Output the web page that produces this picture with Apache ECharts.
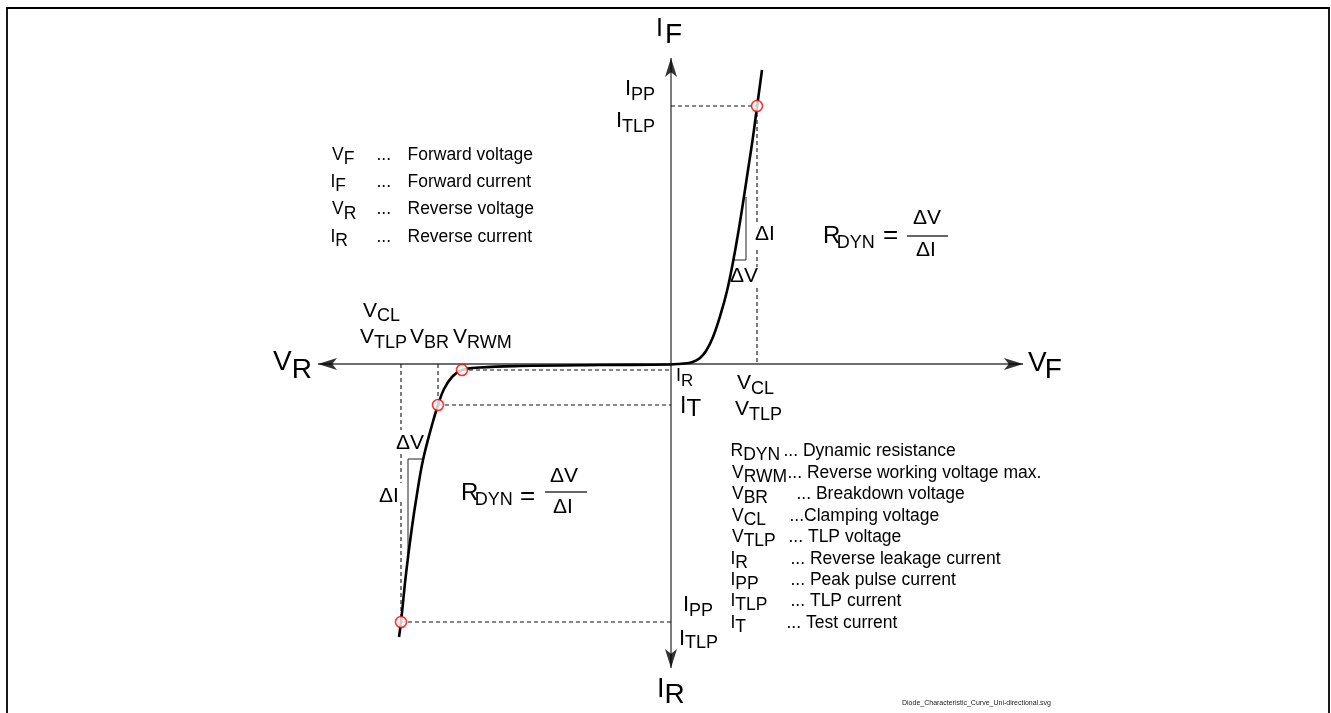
<!DOCTYPE html>
<html><head><meta charset="utf-8">
<script src="https://cdn.jsdelivr.net/npm/echarts@6/dist/echarts.min.js"></script>
<style>html,body{margin:0;padding:0;background:#fff;}#c{width:1331px;height:713px;}</style>
</head><body><div id="c"></div>
<script>
// ---------- data (arbitrary units: voltage V, current I) ----------
const reverseV = [-27.2, -27.0, -26.5, -25.9, -25.4, -24.8, -23.9, -23.3, -22.7, -21.9, -20.9, -19.1, -15.1, -7.1, 0];
const reverseI = [-27.3, -25.8, -21.0, -16.3, -13.0, -9.6, -6.1, -4.1, -2.5, -1.3, -0.6, -0.35, -0.2, -0.1, -0.05];
const forwardV = [1.0, 1.8, 2.4, 2.9, 3.5, 4.2, 5.0, 5.6, 6.2, 6.7, 7.2, 7.7, 8.2, 8.6, 9.1];
const forwardI = [0.03, 0.1, 0.3, 0.6, 1.3, 2.7, 5.1, 7.3, 10.2, 13.0, 16.1, 19.4, 22.7, 25.7, 29.4];
// key points: I_PP fwd, V_RWM/I_R, V_BR/I_T, V_TLP/I_PP rev
const pointV = [8.6, -20.9, -23.3, -27.0];
const pointI = [25.8, -0.6, -4.1, -25.8];
const axisV = [-35.3, 35.2];
const axisI = [-30.4, 30.6];
const slopeFwdV = [6.2, 7.5, 7.5], slopeFwdI = [10.4, 10.4, 16.7];
const slopeRevV = [-24.8, -26.3, -26.3], slopeRevI = [-9.5, -9.5, -19.5];
const fwdClampGaps = [[14.2, 11.4], [9.7, 7.6]];
const revClampGaps = [[-6.6, -9.0], [-11.9, -13.8]];
const legendTopSymbols = [['V','F'],['I','F'],['V','R'],['I','R']];
const legendTopTexts = ['Forward voltage','Forward current','Reverse voltage','Reverse current'];
const legendBottomSymbols = [['R','DYN'],['V','RWM'],['V','BR'],['V','CL'],['V','TLP'],['I','R'],['I','PP'],['I','TLP'],['I','T']];
const legendBottomTexts = ['... Dynamic resistance','... Reverse working voltage max.','... Breakdown voltage','...Clamping voltage','... TLP voltage','... Reverse leakage current','... Peak pulse current','... TLP current','... Test current'];
const legendBottomTextX = [785, 789, 798, 791, 790, 792, 792, 792, 788];
const fileName = 'Diode_Characteristic_Curve_Uni-directional.svg';

// ---------- helpers ----------
const FONT = '"Liberation Sans", Arial, Helvetica, sans-serif';
const mctx = document.createElement('canvas').getContext('2d');
function tw(t, s){ mctx.font = s + 'px ' + FONT; return mctx.measureText(t).width; }
function txt(x, y, t, s, extra){
  return {type:'text', x:x, y:y, z:100, silent:true,
    style:Object.assign({text:t, fontSize:s, fontFamily:FONT, fill:'#000', align:'left', verticalAlign:'middle'}, extra||{})};
}
function sym(x, y, main, ms, sub, ss, dy, dx){
  return [txt(x, y, main, ms), txt(x + tw(main, ms) + (dx||0), y + dy, sub, ss)];
}
function rsym(right, y, main, ms, sub, ss, dy){
  const w = tw(main, ms) + tw(sub, ss);
  return sym(right - w, y, main, ms, sub, ss, dy, 0);
}
function zip(a, b){ return a.map((v, i) => [v, b[i]]); }
function lineSeries(pts, style, z){
  return {type:'line', data:pts, symbol:'none', showSymbol:false, silent:true, animation:false,
    lineStyle:style, z:z||2};
}
function gappedV(v, from, to, gaps){
  const segs = []; let cur = from;
  gaps.forEach(g => { segs.push([[v, cur], [v, g[0]]]); cur = g[1]; });
  segs.push([[v, cur], [v, to]]);
  return segs;
}

// ---------- series ----------
const dash = {color:'#111', width:1.1, type:[4, 3]};
const series = [];
// axes
series.push(lineSeries([[axisV[0], 0], [axisV[1], 0]], {color:'#6e6e6e', width:1.8}, 1));
series.push(lineSeries([[0, axisI[0]], [0, axisI[1]]], {color:'#6e6e6e', width:1.8}, 1));
// dashed guides
const guides = [
  [[0, pointI[0]], [pointV[0], pointI[0]]],
  [[pointV[1], pointI[1]], [0, pointI[1]]],
  [[pointV[2], pointI[2]], [0, pointI[2]]],
  [[pointV[2], 0], [pointV[2], pointI[2]]],
  [[pointV[3], pointI[3]], [0, pointI[3]]]
].concat(gappedV(pointV[0], pointI[0], 0, fwdClampGaps))
 .concat(gappedV(pointV[3], 0, pointI[3], revClampGaps));
guides.forEach(g => series.push(lineSeries(g, dash, 2)));
// slope triangles
series.push(lineSeries(zip(slopeFwdV, slopeFwdI), {color:'#222', width:1}, 2));
series.push(lineSeries(zip(slopeRevV, slopeRevI), {color:'#222', width:1}, 2));
// characteristic curve
series.push({type:'line', data:zip(reverseV, reverseI).concat(zip(forwardV, forwardI)), smooth:0.4,
  symbol:'none', showSymbol:false, silent:true, animation:false, z:5,
  lineStyle:{color:'#000', width:2.6}});
// arrow heads
const arrowPath = 'path://M0,0 L6,18 L0,13.5 L-6,18 Z';
series.push({type:'scatter', silent:true, animation:false, z:6, symbol:arrowPath, symbolSize:[12, 19],
  itemStyle:{color:'#000'},
  data:[
    {value:[axisV[0] + 0.95, 0], symbolRotate:90},
    {value:[axisV[1] - 0.95, 0], symbolRotate:-90},
    {value:[0, axisI[1] - 0.95], symbolRotate:0},
    {value:[0, axisI[0] + 0.95], symbolRotate:180}
  ]});
// key point markers
series.push({type:'scatter', silent:true, animation:false, z:7, symbol:'circle', symbolSize:11,
  itemStyle:{color:'#fff', borderColor:'#f00', borderWidth:1.6},
  data:zip(pointV, pointI)});

// ---------- graphic (frame + text) ----------
let g = [];
g.push({type:'rect', z:0, silent:true, shape:{x:7, y:8, width:1322, height:730},
  style:{fill:'none', stroke:'#000', lineWidth:1.8}});
// axis names
g = g.concat(sym(656, 29, 'I', 25, 'F', 28, 6.5, 2));
g = g.concat(sym(1028, 363, 'V', 28, 'F', 28, 7, -2));
g = g.concat(sym(273, 362.5, 'V', 28, 'R', 28, 7.5, 0));
g = g.concat(sym(657, 689.5, 'I', 27, 'R', 28, 6, 0));
// forward labels
g = g.concat(rsym(655, 89, 'I', 22, 'PP', 18, 6));
g = g.concat(rsym(655, 121, 'I', 22, 'TLP', 18, 6));
g = g.concat(sym(737, 383.5, 'V', 21, 'CL', 18, 6));
g = g.concat(sym(735, 409.5, 'V', 21, 'TLP', 18, 5.5));
// reverse labels
g = g.concat(sym(683, 605, 'I', 22, 'PP', 18, 6.5));
g = g.concat(sym(679, 638.5, 'I', 22, 'TLP', 18, 5));
g = g.concat(sym(363, 311.5, 'V', 21, 'CL', 18, 5));
g = g.concat(sym(360, 337.5, 'V', 21, 'TLP', 18, 6));
g = g.concat(sym(410, 337.5, 'V', 21, 'BR', 18, 6));
g = g.concat(sym(453, 337.5, 'V', 21, 'RWM', 18, 6));
g = g.concat(sym(676, 376.5, 'I', 18, 'R', 17, 4.5));
g = g.concat(sym(680, 406.5, 'I', 23, 'T', 24, 2.5));
// deltas
g.push(txt(755, 234, '\u0394I', 21));
g.push(txt(730, 276.5, '\u0394V', 21));
g.push(txt(396, 443.5, '\u0394V', 21));
g.push(txt(379, 496.5, '\u0394I', 21));
// R_DYN formulas
function formula(x, y, eqX, eqY, fx1, fx2, fy, numX, numY, denX, denY){
  let r = sym(x, y, 'R', 24, 'DYN', 18, 6.5, -3.5);
  r.push(txt(eqX, eqY, '=', 26));
  r.push({type:'line', z:100, silent:true, shape:{x1:fx1, y1:fy, x2:fx2, y2:fy}, style:{stroke:'#666', lineWidth:2}});
  r.push(txt(numX, numY, '\u0394V', 21));
  r.push(txt(denX, denY, '\u0394I', 21));
  return r;
}
g = g.concat(formula(823, 236.5, 883, 236, 907, 948, 236, 913, 218, 916, 250.5));
g = g.concat(formula(461, 493.5, 520, 497, 545, 587, 492, 550, 476.5, 553, 507.5));
// top-left legend
legendTopSymbols.forEach((s, i) => {
  const y = 155 + 27.3 * i;
  g = g.concat(sym(s[0] === 'I' ? 330.5 : 332, y, s[0], 17.5, s[1], 17.5, 4.3));
  g.push(txt(376.5, y, '...', 17.5));
  g.push(txt(407.5, y, legendTopTexts[i], 17.5));
});
// bottom-right legend
legendBottomSymbols.forEach((s, i) => {
  const y = 451.5 + 21.45 * i;
  g = g.concat(sym(s[0] === 'V' ? 732 : 730.5, y, s[0], 17.5, s[1], 17.5, 4));
  g.push(txt(legendBottomTextX[i] - 1.5, y, legendBottomTexts[i], 17.5));
});
g.push(txt(902, 703, fileName, 7, {fill:'#222'}));

const chart = echarts.init(document.getElementById('c'), null, {renderer:'canvas'});
chart.setOption({
  animation:false,
  backgroundColor:'#fff',
  grid:{left:0, right:0, top:0, bottom:0},
  xAxis:{type:'value', min:-67.1, max:66.0, show:false},
  yAxis:{type:'value', min:-34.9, max:36.4, show:false},
  series:series,
  graphic:g
});
</script></body></html>
